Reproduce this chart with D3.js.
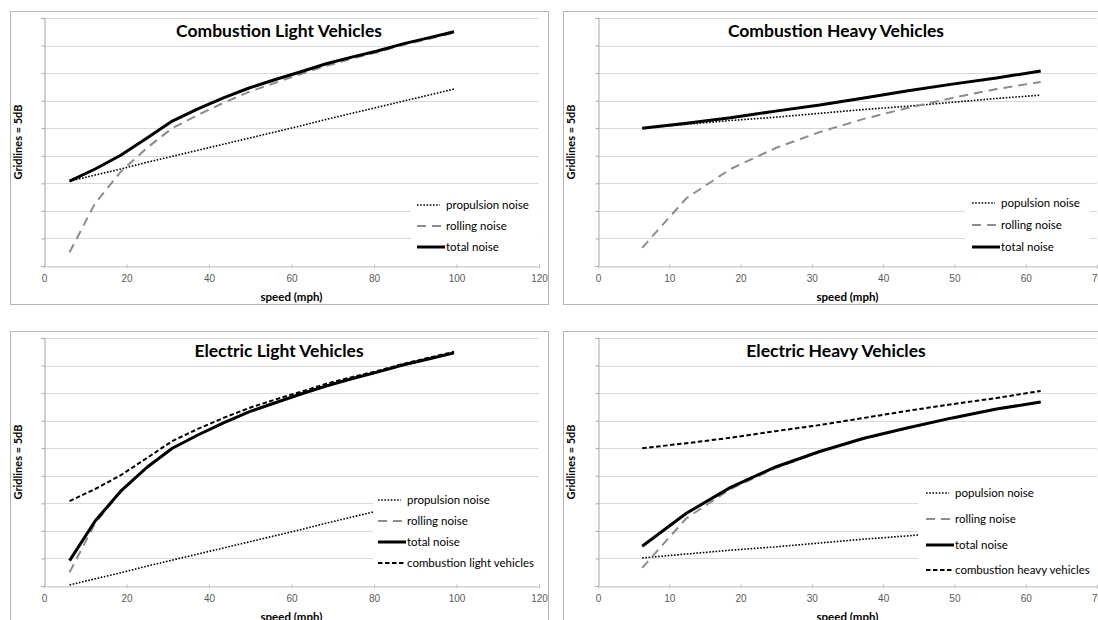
<!DOCTYPE html>
<html>
<head>
<meta charset="utf-8">
<script src="https://cdn.jsdelivr.net/npm/d3@7"></script>
<style>
  body { margin: 0; background: #ffffff; }
  svg { display: block; font-family: Lato, "Open Sans", sans-serif; }
  .title { font-weight: bold; font-size: 17.5px; fill: #000; }
  .ylab { font-weight: bold; font-size: 11px; fill: #000; }
  .xlab { font-weight: bold; font-size: 11.5px; fill: #000; }
  .tick text { font-size: 10px; fill: #595959; }
  .legend text { font-size: 11.5px; fill: #000; }
</style>
</head>
<body>
<svg id="chart" width="1098" height="620"></svg>
<script>
// speeds are 10..160 km/h shown in mph
var speedsLight = [6.2, 12.4, 18.6, 24.9, 31.1, 37.3, 43.5, 49.7, 55.9, 62.1, 68.4, 74.6, 80.8, 87.0, 93.2, 99.4];
var speedsHeavy = [6.2, 12.4, 18.6, 24.9, 31.1, 37.3, 43.5, 49.7, 55.9, 62.1];

// levels in dB (axis has no labels, gridlines every 5 dB)
var lightPropulsion = [55.4, 56.5, 57.6, 58.8, 59.9, 61.0, 62.1, 63.2, 64.3, 65.4, 66.6, 67.7, 68.8, 69.9, 71.0, 72.1];
var lightRolling    = [42.5, 51.4, 57.1, 61.4, 65.0, 67.4, 69.6, 71.6, 73.2, 74.8, 76.3, 77.6, 78.8, 80.1, 81.2, 82.3];
var lightTotal      = [55.4, 57.6, 60.1, 63.2, 66.3, 68.5, 70.5, 72.3, 73.8, 75.2, 76.7, 77.9, 79.0, 80.3, 81.4, 82.5];

var heavyPropulsion = [65.0, 65.7, 66.4, 67.0, 67.7, 68.4, 69.0, 69.7, 70.4, 71.0];
var heavyRolling    = [43.3, 52.3, 57.6, 61.4, 64.3, 66.7, 68.7, 70.5, 72.1, 73.4];
var heavyTotal      = [65.0, 65.9, 66.9, 68.1, 69.2, 70.5, 71.8, 73.0, 74.1, 75.4];

var elecLightPropulsion = [40.2, 41.3, 42.4, 43.6, 44.7, 45.8, 46.9, 48.0, 49.1, 50.2, 51.4, 52.5, 53.6, 54.7, 55.8, 56.9];
var elecLightRolling    = [42.5, 51.4, 57.1, 61.4, 65.0, 67.4, 69.6, 71.6, 73.2, 74.8, 76.3, 77.6, 78.8, 80.1, 81.2, 82.3];
var elecLightTotal      = [44.6, 51.8, 57.2, 61.5, 65.0, 67.4, 69.6, 71.6, 73.2, 74.8, 76.3, 77.6, 78.8, 80.1, 81.2, 82.3];

var elecHeavyPropulsion = [45.1, 45.8, 46.5, 47.1, 47.8, 48.5, 49.1, 49.8, 50.5, 51.1];
var elecHeavyRolling    = [43.3, 52.3, 57.6, 61.4, 64.3, 66.7, 68.7, 70.5, 72.1, 73.4];
var elecHeavyTotal      = [47.2, 53.2, 57.9, 61.6, 64.4, 66.8, 68.7, 70.5, 72.1, 73.4];

var xTicksLight = [0, 20, 40, 60, 80, 100, 120];
var xTicksHeavy = [0, 10, 20, 30, 40, 50, 60, 70];
var yGrid = [40, 45, 50, 55, 60, 65, 70, 75, 80, 85];

var styles = {
    propulsion: {stroke: "#000", width: 1.6, dash: "1.6,1.6", legendLen: 23},
    rolling: {stroke: "#8c8c8c", width: 2, dash: "9,6", legendLen: 24},
    total: {stroke: "#000", width: 3, dash: null, legendLen: 28},
    combustion: {stroke: "#000", width: 2, dash: "4.5,2.5", legendLen: 28}
};

var svg = d3.select("#chart");

var panels = [
    {title: "Combustion Light Vehicles", frame: [10, 11, 538, 293], left: 44, top: 18, width: 495, xMax: 120, ticks: xTicksLight,
     series: [["propulsion", speedsLight, lightPropulsion], ["rolling", speedsLight, lightRolling], ["total", speedsLight, lightTotal]],
     legend: {x: 417, rows: [205, 226, 247], box: [411, 191, 127, 68],
              items: [["propulsion", "propulsion noise"], ["rolling", "rolling noise"], ["total", "total noise"]]}},
    {title: "Combustion Heavy Vehicles", frame: [563, 11, 546, 293], left: 598, top: 18, width: 499, xMax: 70, ticks: xTicksHeavy,
     series: [["propulsion", speedsHeavy, heavyPropulsion], ["rolling", speedsHeavy, heavyRolling], ["total", speedsHeavy, heavyTotal]],
     legend: {x: 972, rows: [203, 225, 247], box: [965, 190, 125, 69],
              items: [["propulsion", "populsion noise"], ["rolling", "rolling noise"], ["total", "total noise"]]}},
    {title: "Electric Light Vehicles", frame: [10, 331, 538, 293], left: 44, top: 338, width: 495, xMax: 120, ticks: xTicksLight,
     series: [["propulsion", speedsLight, elecLightPropulsion], ["rolling", speedsLight, elecLightRolling],
              ["combustion", speedsLight, lightTotal], ["total", speedsLight, elecLightTotal]],
     legend: {x: 378, rows: [500, 521, 542, 563], box: [373, 486, 166, 92],
              items: [["propulsion", "propulsion noise"], ["rolling", "rolling noise"], ["total", "total noise"], ["combustion", "combustion light vehicles"]]}},
    {title: "Electric Heavy Vehicles", frame: [563, 331, 546, 293], left: 598, top: 338, width: 499, xMax: 70, ticks: xTicksHeavy,
     series: [["propulsion", speedsHeavy, elecHeavyPropulsion], ["rolling", speedsHeavy, elecHeavyRolling],
              ["combustion", speedsHeavy, heavyTotal], ["total", speedsHeavy, elecHeavyTotal]],
     legend: {x: 926, rows: [493, 519, 545, 570], box: [918, 479, 180, 103],
              items: [["propulsion", "populsion noise"], ["rolling", "rolling noise"], ["total", "total noise"], ["combustion", "combustion heavy vehicles"]]}}
];

var plotHeight = 248;

panels.forEach(function(p){
    var g = svg.append("g");

    // chart frame
    g.append("rect")
        .attr("x", p.frame[0] + 0.5).attr("y", p.frame[1] + 0.5)
        .attr("width", p.frame[2]).attr("height", p.frame[3])
        .attr("fill", "#fff").attr("stroke", "#b3b3b3");

    var x = d3.scaleLinear().domain([0, p.xMax]).range([p.left, p.left + p.width]);
    var y = d3.scaleLinear().domain([40, 85]).range([p.top + plotHeight, p.top]);

    // gridlines
    g.selectAll(".grid").data(yGrid).enter().append("line")
        .attr("x1", p.left).attr("x2", p.left + p.width)
        .attr("y1", function(d){ return Math.round(y(d)) + 0.5; })
        .attr("y2", function(d){ return Math.round(y(d)) + 0.5; })
        .attr("stroke", "#d9d9d9").attr("stroke-width", 1);

    // y axis, no labels
    var yAxis = g.append("g")
        .attr("transform", "translate(" + (p.left + 0.5) + ",0)")
        .call(d3.axisLeft(y).tickValues(yGrid).tickSize(3).tickFormat(""));
    yAxis.select(".domain").attr("stroke", "#a6a6a6");
    yAxis.selectAll(".tick line").attr("stroke", "#a6a6a6");

    // x axis
    var xAxis = g.append("g")
        .attr("transform", "translate(0," + (p.top + plotHeight + 0.5) + ")")
        .call(d3.axisBottom(x).tickValues(p.ticks).tickSizeOuter(0).tickSizeInner(2).tickPadding(6));
    xAxis.select(".domain").attr("stroke", "#d0d0d0");
    xAxis.selectAll(".tick line").attr("stroke", "#c0c0c0").attr("y1", -2);

    // titles
    g.append("text").attr("class", "title")
        .attr("x", p.frame[0] + p.frame[2] / 2).attr("y", p.top + 19)
        .attr("text-anchor", "middle").text(p.title);
    g.append("text").attr("class", "xlab")
        .attr("x", p.left + p.width / 2).attr("y", p.top + plotHeight + 35)
        .attr("text-anchor", "middle").text("speed (mph)");
    g.append("text").attr("class", "ylab")
        .attr("transform", "translate(" + (p.frame[0] + 12) + "," + (p.top + plotHeight / 2) + ") rotate(-90)")
        .attr("text-anchor", "middle").text("Gridlines = 5dB");

    // series
    p.series.forEach(function(s){
        var st = styles[s[0]];
        var pts = s[1].map(function(v, k){ return [v, s[2][k]]; });
        var line = d3.line().x(function(d){ return x(d[0]); }).y(function(d){ return y(d[1]); });
        g.append("path")
            .attr("d", line(pts))
            .attr("fill", "none")
            .attr("stroke", st.stroke)
            .attr("stroke-width", st.width)
            .attr("stroke-dasharray", st.dash)
            .attr("stroke-linejoin", "round");
    });

    // legend sits on top of the plot with a white box
    var lg = g.append("g").attr("class", "legend");
    lg.append("rect")
        .attr("x", p.legend.box[0]).attr("y", p.legend.box[1])
        .attr("width", p.legend.box[2]).attr("height", p.legend.box[3])
        .attr("fill", "#fff");
    p.legend.items.forEach(function(it, k){
        var st = styles[it[0]];
        var ly = p.legend.rows[k];
        lg.append("line")
            .attr("x1", p.legend.x).attr("x2", p.legend.x + st.legendLen)
            .attr("y1", ly).attr("y2", ly)
            .attr("stroke", st.stroke).attr("stroke-width", st.width)
            .attr("stroke-dasharray", st.dash);
        lg.append("text")
            .attr("x", p.legend.x + 29).attr("y", ly + 4)
            .text(it[1]);
    });
});
</script>
</body>
</html>
